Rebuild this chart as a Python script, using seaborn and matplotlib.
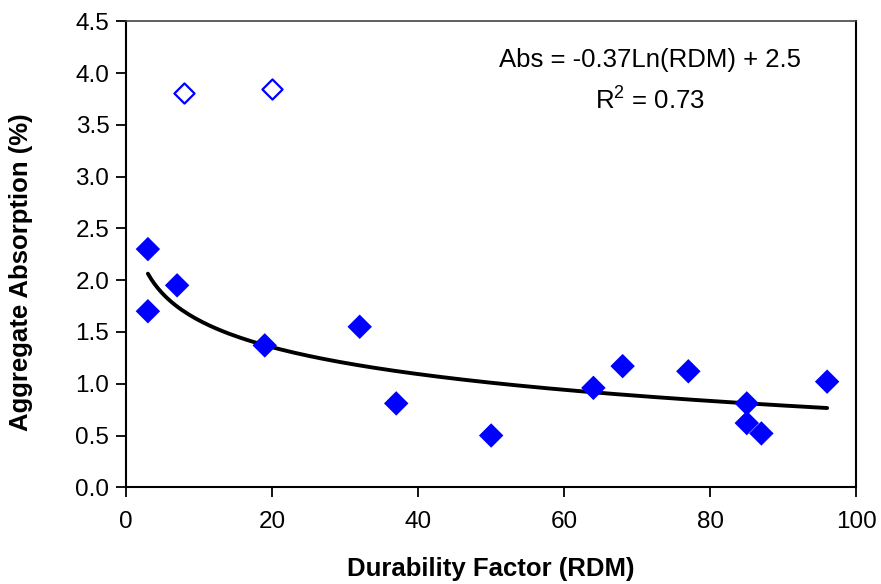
import numpy as np
import pandas as pd
import matplotlib
matplotlib.use("Agg")
import matplotlib.pyplot as plt
import seaborn as sns

# Data
rdm = [3, 3, 7, 19, 32, 37, 50, 64, 68, 77, 85, 85, 87, 96]
absorption = [2.30, 1.70, 1.95, 1.37, 1.55, 0.81, 0.50, 0.96, 1.17, 1.12, 0.81, 0.62, 0.52, 1.02]
outlier_rdm = [8, 20]
outlier_abs = [3.81, 3.85]
equation_text = "Abs = -0.37Ln(RDM) + 2.5"
r2_text = "R$^2$ = 0.73"
x_ticks = [0, 20, 40, 60, 80, 100]
y_ticks = [0.0, 0.5, 1.0, 1.5, 2.0, 2.5, 3.0, 3.5, 4.0, 4.5]

sns.set_style("white")
plt.rcParams['font.family'] = ['Liberation Sans', 'DejaVu Sans']
plt.rcParams['mathtext.fontset'] = 'custom'
plt.rcParams['mathtext.rm'] = 'Liberation Sans'
plt.rcParams['text.color'] = 'black'
plt.rcParams['axes.labelcolor'] = 'black'
plt.rcParams['xtick.color'] = 'black'
plt.rcParams['ytick.color'] = 'black'

df = pd.DataFrame({"RDM": rdm, "Abs": absorption})
df_out = pd.DataFrame({"RDM": outlier_rdm, "Abs": outlier_abs})

# logarithmic trendline fitted to the filled points
slope, intercept = np.polyfit(np.log(df["RDM"]), df["Abs"], 1)
xs = np.linspace(min(rdm), max(rdm), 200)
df_fit = pd.DataFrame({"RDM": xs, "Abs": slope * np.log(xs) + intercept})

fig = plt.figure(figsize=(8.81, 5.84), dpi=100)
ax = fig.add_axes([0.143, 0.1656, 0.829, 0.798])

sns.lineplot(data=df_fit, x="RDM", y="Abs", ax=ax, color="black", linewidth=2.8, zorder=2)
sns.scatterplot(data=df, x="RDM", y="Abs", ax=ax, marker="D", s=155, color="#0000FF",
                edgecolor="none", zorder=3)
sns.scatterplot(data=df_out, x="RDM", y="Abs", ax=ax, marker="D", s=105, facecolor="white",
                edgecolor="#0000FF", linewidth=1.6, zorder=3)

ax.set_xlim(0, 100)
ax.set_ylim(0, 4.5)
ax.set_xticks(x_ticks)
ax.set_yticks(y_ticks)
ax.set_yticklabels([f"{v:.1f}" for v in y_ticks])
ax.tick_params(axis="both", direction="out", length=7, width=1.3, labelsize=17.5,
               colors="black", labelcolor="black", bottom=True, left=True, pad=5)
ax.tick_params(axis="x", pad=10)

for side in ["left", "bottom", "right"]:
    ax.spines[side].set_color("black")
    ax.spines[side].set_linewidth(1.5)
ax.spines["top"].set_color("#444444")
ax.spines["top"].set_linewidth(1.2)

ax.set_xlabel("Durability Factor (RDM)", fontsize=18.5, fontweight="bold", labelpad=17,
              color="black")
ax.set_ylabel("Aggregate Absorption (%)", fontsize=18.5, fontweight="bold", color="black")
ax.yaxis.set_label_coords(-0.127, 0.462)

ax.text(0.717, 0.917, equation_text, transform=ax.transAxes, ha="center", va="center",
        fontsize=18.5, color="black")
ax.text(0.717, 0.831, r2_text, transform=ax.transAxes, ha="center", va="center",
        fontsize=18.5, color="black")

fig.savefig("out.png", dpi=100)
